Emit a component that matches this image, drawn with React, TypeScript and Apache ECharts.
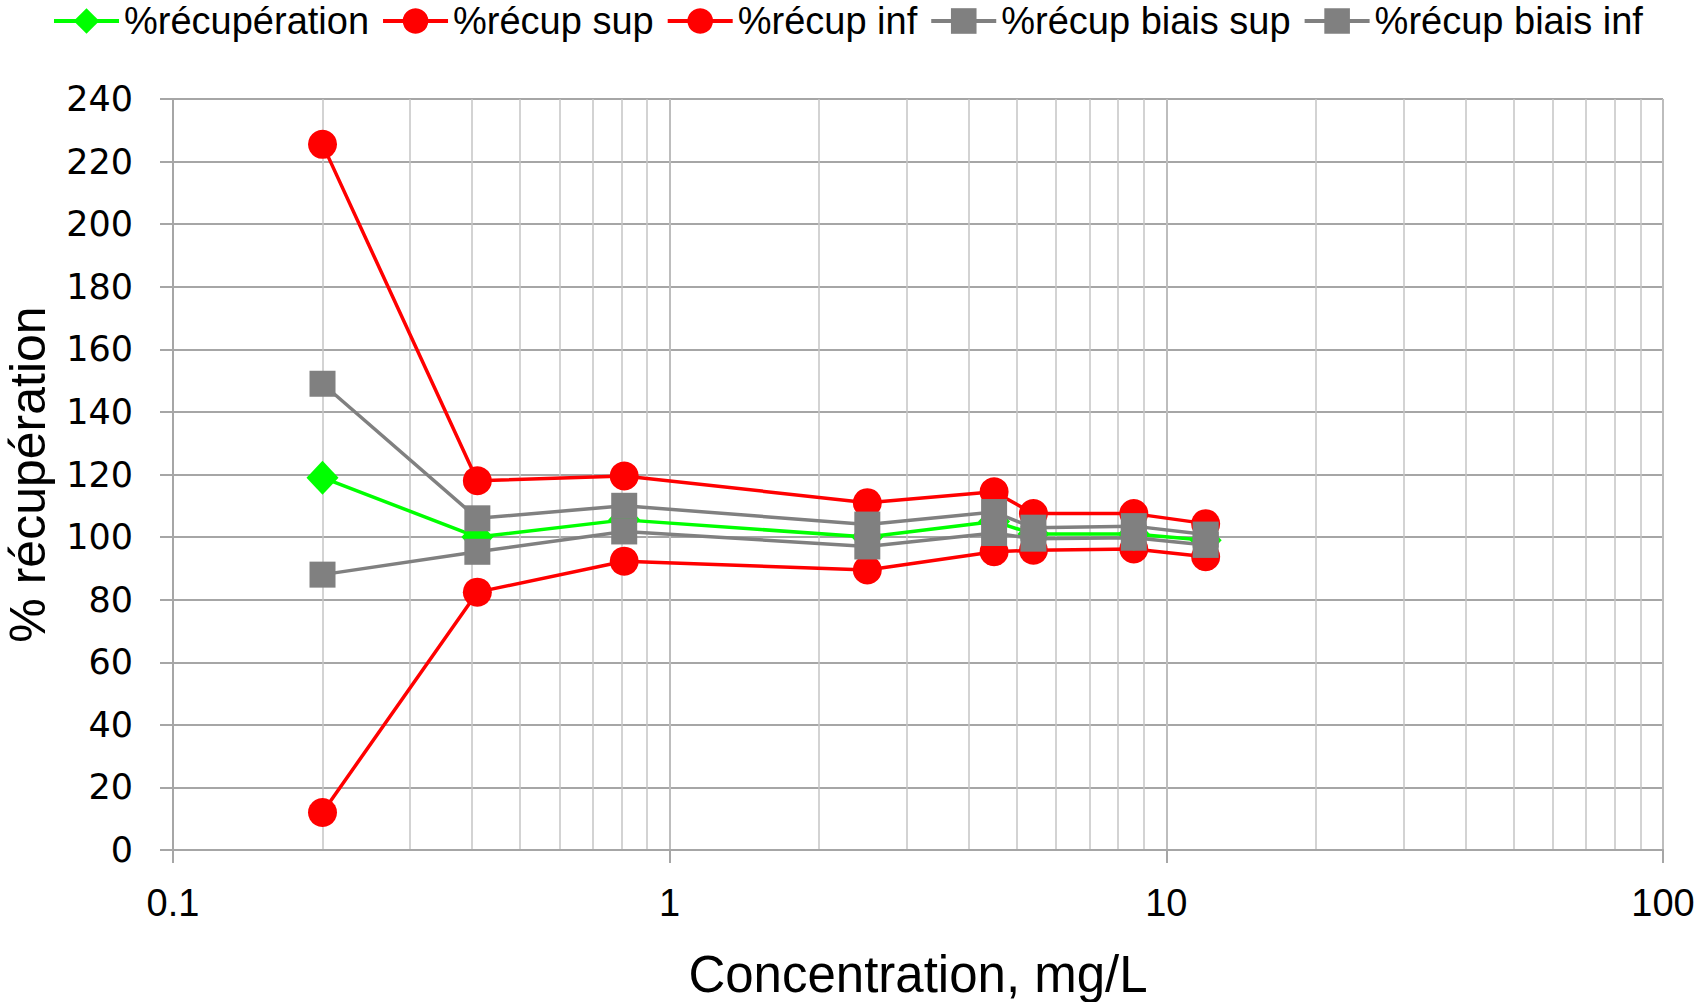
import React, { useEffect, useRef } from "react";
import * as echarts from "echarts";

// Concentration (mg/L) of each measured level
const concentrations = [0.2, 0.41, 0.81, 2.5, 4.5, 5.4, 8.6, 12];
// % recovery series
const recuperation = [119, 100, 105.5, 100, 105, 101, 101, 99];
const recupSup = [225.5, 118, 119.5, 111, 114.5, 107.5, 107.5, 104.3];
const recupInf = [12, 82.4, 92.3, 89.5, 95.3, 95.8, 96.2, 93.7];
const biaisSup = [149, 106, 110, 104, 108, 103, 103.5, 100.8];
const biaisInf = [88, 95.3, 101.8, 97, 101.3, 99.5, 99.8, 97.5];

const seriesNames = [
  "%récupération",
  "%récup sup",
  "%récup inf",
  "%récup biais sup",
  "%récup biais inf",
];
const xTickLabels = ["0.1", "1", "10", "100"];
const xDecades = [0.1, 1, 10];
const minorSteps = [2, 3, 4, 5, 6, 7, 8, 9];

const yMin = 0;
const yMax = 240;
const yInterval = 20;

const SANS = '"Liberation Sans", Arial, sans-serif';

function pairs(ys: number[]) {
  return concentrations.map((x, i) => [x, ys[i]]);
}

export default function App() {
  const ref = useRef<HTMLDivElement>(null);

  useEffect(() => {
    if (!ref.current) return;
    const chart = echarts.init(ref.current, undefined, { renderer: "svg" });

    const minorLines: number[] = [];
    xDecades.forEach((d) => minorSteps.forEach((k) => minorLines.push(+(d * k).toPrecision(6))));

    const lineWidth = 3.5;
    const mk = (
      name: string,
      data: number[],
      color: string,
      symbol: string,
      size: number | number[],
      z: number
    ) => ({
      name,
      type: "line",
      data: pairs(data),
      symbol,
      symbolSize: size,
      showSymbol: true,
      z,
      lineStyle: { color, width: lineWidth },
      itemStyle: { color, borderWidth: 0 },
      emphasis: { disabled: true },
    });

    const option: any = {
      animation: false,
      backgroundColor: "#ffffff",
      textStyle: { fontFamily: SANS },
      legend: {
        data: seriesNames,
        left: 52,
        top: 2,
        padding: 0,
        itemWidth: 65,
        itemHeight: 32,
        itemGap: 12,
        lineStyle: { width: 4 },
        textStyle: { fontFamily: SANS, fontSize: 38, color: "#000000" },
      },
      grid: {
        left: 173,
        right: 39,
        top: 99,
        bottom: 152,
        containLabel: false,
        outerBoundsMode: "none",
      },
      xAxis: {
        type: "log",
        logBase: 10,
        min: 0.1,
        max: 100,
        name: "Concentration, mg/L",
        nameLocation: "middle",
        nameGap: 99,
        nameTextStyle: { fontFamily: SANS, fontSize: 51, color: "#000000" },
        axisLine: { show: true, onZero: false, lineStyle: { color: "#a6a6a6", width: 2 } },
        axisTick: { show: true, inside: false, length: 13, lineStyle: { color: "#a6a6a6", width: 2 } },
        axisLabel: {
          margin: 34,
          fontFamily: SANS,
          fontSize: 38,
          color: "#000000",
          formatter: (v: number) => {
            const idx = Math.round(Math.log10(v) + 1);
            return xTickLabels[idx] ?? String(v);
          },
        },
        splitLine: { show: true, lineStyle: { color: "#bdbdbd", width: 2 } },
      },
      yAxis: {
        type: "value",
        min: yMin,
        max: yMax,
        interval: yInterval,
        name: "% récupération",
        nameLocation: "middle",
        nameGap: 120,
        nameTextStyle: { fontFamily: SANS, fontSize: 50, color: "#000000" },
        axisLine: { show: true, lineStyle: { color: "#a6a6a6", width: 2 } },
        axisTick: { show: true, inside: false, length: 13, lineStyle: { color: "#a6a6a6", width: 2 } },
        axisLabel: {
          margin: 40,
          fontFamily: '"DejaVu Sans", Verdana, sans-serif',
          fontSize: 35,
          color: "#000000",
        },
        splitLine: { show: true, lineStyle: { color: "#a6a6a6", width: 2 } },
      },
      series: [
        {
          name: "minor-grid",
          type: "line",
          data: [],
          silent: true,
          z: 0,
          markLine: {
            silent: true,
            z: 0,
            symbol: "none",
            animation: false,
            label: { show: false },
            emphasis: { disabled: true },
            lineStyle: { color: "#c4c4c4", width: 1.5, type: "solid" },
            data: minorLines.map((v) => ({ xAxis: v })),
          },
        },
        mk(seriesNames[0], recuperation, "#00ff00", "diamond", [32, 34], 3),
        mk(seriesNames[1], recupSup, "#ff0000", "circle", 29, 2),
        mk(seriesNames[2], recupInf, "#ff0000", "circle", 29, 2),
        mk(seriesNames[3], biaisSup, "#808080", "rect", 26, 4),
        mk(seriesNames[4], biaisInf, "#808080", "rect", 26, 4),
      ],
    };

    chart.setOption(option);
    return () => chart.dispose();
  }, []);

  return (
    <div
      ref={ref}
      style={{
        position: "fixed",
        left: 0,
        top: 0,
        width: 1702,
        height: 1002,
        background: "#ffffff",
      }}
    />
  );
}
